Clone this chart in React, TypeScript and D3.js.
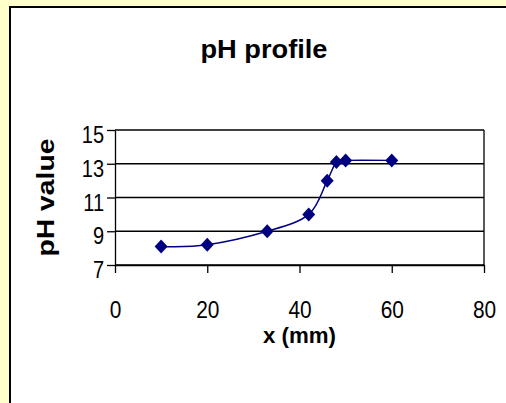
import * as d3 from 'd3'
import { useRef, useEffect } from 'react'

const xValues = [10, 20, 33, 42, 46, 48, 50, 60]
const phValues = [8.1, 8.2, 9.0, 10.0, 12.0, 13.1, 13.2, 13.2]
const xTicks = [0, 20, 40, 60, 80]
const yTicks = [7, 9, 11, 13, 15]

const svgWidth = 506
const svgHeight = 403
const margin = { left: 115, right: 22, top: 130, bottom: 138 }
const font = '"Liberation Sans", Arial, sans-serif'
const squeeze = 0.87

const App = () => {
  const svgRef = useRef(null)

  useEffect((): void => {
    const SVG = d3.select(svgRef.current)
    SVG.selectAll('*').remove()

    SVG.attr('width', svgWidth).attr('height', svgHeight)

    // yellow page + white chart area
    SVG.append('rect').attr('width', svgWidth).attr('height', svgHeight).attr('fill', '#ffffcc')
    SVG.append('rect')
      .attr('x', 10).attr('y', 7)
      .attr('width', svgWidth).attr('height', svgHeight)
      .attr('fill', '#fff').attr('stroke', '#000').attr('stroke-width', 2)

    const xScale = d3.scaleLinear()
      .domain([0, 80])
      .range([margin.left, svgWidth - margin.right])
    const yScale = d3.scaleLinear()
      .domain([7, 15])
      .range([svgHeight - margin.bottom, margin.top])

    // gridlines
    SVG.append('g')
      .selectAll('line')
      .data(yTicks)
      .enter()
      .append('line')
      .attr('x1', xScale(0)).attr('x2', xScale(80))
      .attr('y1', d => yScale(d)).attr('y2', d => yScale(d))
      .attr('stroke', '#000').attr('stroke-width', 1.3)

    // right border of plot area
    SVG.append('line')
      .attr('x1', xScale(80)).attr('x2', xScale(80))
      .attr('y1', yScale(15)).attr('y2', yScale(7))
      .attr('stroke', '#000').attr('stroke-width', 1.3)

    const xAxis = d3.axisBottom(xScale).tickValues(xTicks).tickSize(8).tickSizeOuter(0)
    const yAxis = d3.axisLeft(yScale).tickValues(yTicks).tickSize(8).tickSizeOuter(0)

    const gx = SVG.append('g')
      .attr('transform', `translate(0,${yScale(7)})`)
      .call(xAxis)
    gx.selectAll('line, path').attr('stroke', '#000').attr('stroke-width', 1.3)
    gx.selectAll('text')
      .attr('y', 36)
      .attr('transform', `scale(${squeeze},1)`)
      .attr('fill', '#000')
      .style('font-family', font).style('font-size', '24px')

    const gy = SVG.append('g')
      .attr('transform', `translate(${xScale(0)},0)`)
      .call(yAxis)
    gy.selectAll('line, path').attr('stroke', '#000').attr('stroke-width', 1.3)
    gy.selectAll('text')
      .attr('x', -11 / squeeze).attr('dy', '0.55em')
      .attr('transform', `scale(${squeeze},1)`)
      .attr('fill', '#000')
      .style('font-family', font).style('font-size', '23px')

    // smoothed line
    const line = d3.line<number>()
      .x((d, i) => xScale(xValues[i]))
      .y(d => yScale(d))
      .curve(d3.curveCardinal.tension(0))

    SVG.append('path')
      .datum(phValues)
      .attr('d', line)
      .attr('fill', 'none')
      .attr('stroke', '#000080')
      .attr('stroke-width', 1.5)

    // diamond markers
    SVG.append('g')
      .selectAll('path')
      .data(phValues)
      .enter()
      .append('path')
      .attr('d', 'M0,-7L6.5,0L0,7L-6.5,0Z')
      .attr('transform', (d, i) => `translate(${xScale(xValues[i])},${yScale(d)})`)
      .attr('fill', '#000080')

    // titles
    SVG.append('text')
      .attr('x', 264).attr('y', 58)
      .attr('text-anchor', 'middle')
      .attr('textLength', 127).attr('lengthAdjust', 'spacingAndGlyphs')
      .style('font-family', font).style('font-size', '25px').style('font-weight', 'bold')
      .text('pH profile')

    SVG.append('text')
      .attr('x', (xScale(0) + xScale(80)) / 2).attr('y', 343)
      .attr('text-anchor', 'middle')
      .attr('textLength', 73).attr('lengthAdjust', 'spacingAndGlyphs')
      .style('font-family', font).style('font-size', '22px').style('font-weight', 'bold')
      .text('x (mm)')

    SVG.append('text')
      .attr('transform', `translate(54,${(yScale(7) + yScale(15)) / 2}) rotate(-90)`)
      .attr('text-anchor', 'middle')
      .attr('textLength', 118).attr('lengthAdjust', 'spacingAndGlyphs')
      .style('font-family', font).style('font-size', '23px').style('font-weight', 'bold')
      .text('pH value')
  }, [])

  return <svg ref={svgRef} style={{ position: 'absolute', top: 0, left: 0 }}></svg>
}

export default App
